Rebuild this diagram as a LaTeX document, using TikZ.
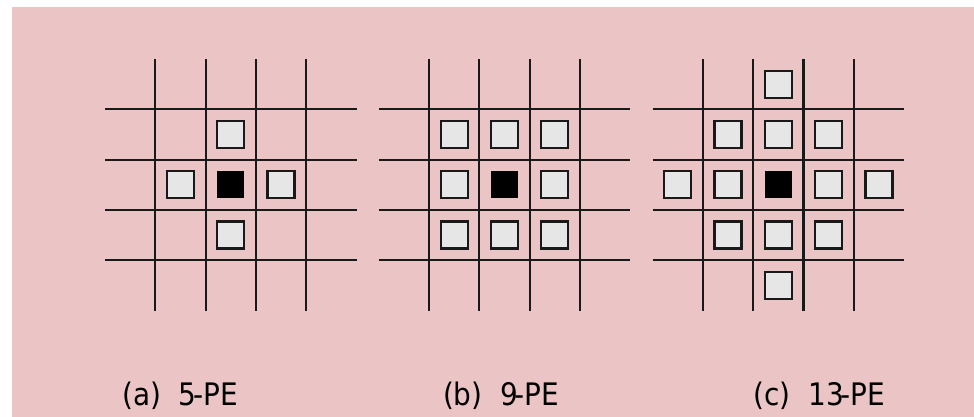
\documentclass[tikz,border=0pt]{standalone}
\usepackage{fontspec}
\setmainfont{DejaVu Sans Condensed}
\definecolor{bgpink}{RGB}{235,197,197}
\definecolor{pegray}{RGB}{230,230,230}
\def\cell{50.3}
% one processing element, placed in grid steps from the centre cell
\def\pe(#1,#2){\draw[pebox] ({#1*\cell-13.5},{#2*\cell-13.5}) rectangle ++(27,27);}
% the 4x4 lines round the centre cell
\def\pegrid{%
	\foreach \k in {-1.5,-0.5,0.5,1.5} {
		\draw[gridline] ({\k*\cell},{-2.5*\cell}) -- ({\k*\cell},{2.5*\cell});
		\draw[gridline] ({-2.5*\cell},{\k*\cell}) -- ({2.5*\cell},{\k*\cell});
	}
	\fill[black] (-13.5,-13.5) rectangle (13.5,13.5);
}

\begin{document}
\begin{tikzpicture}[x=1pt, y=-1pt,
		gridline/.style={line width=2.2pt, color=black!90},
		pebox/.style={line width=2.2pt, draw=black!90, fill=pegray},
		caption/.style={anchor=base west, inner sep=0pt, font=\fontsize{31}{37}\selectfont}]
			%%%%% START %%%%%
			
			\useasboundingbox (0, 0) rectangle (974, 417);
			\fill[bgpink] (12, 7) rectangle (974, 417);
			
			% (a) 5 elements
			\begin{scope}[shift={(230.75, 184.75)}]
				\pegrid
				\pe(0,-1) \pe(-1,0) \pe(1,0) \pe(0,1)
			\end{scope}
			
			% (b) 9 elements
			\begin{scope}[shift={(504.5, 184.75)}]
				\pegrid
				\foreach \i in {-1,0,1} {
					\pe(\i,-1) \pe(\i,1)
				}
				\pe(-1,0) \pe(1,0)
			\end{scope}
			
			% (c) 13 elements
			\begin{scope}[shift={(778.3, 184.75)}]
				\pegrid
				\foreach \i in {-1,0,1} {
					\pe(\i,-1) \pe(\i,1)
				}
				\pe(-2,0) \pe(-1,0) \pe(1,0) \pe(2,0)
				\pe(0,-2) \pe(0,2)
			\end{scope}
			
			\node[caption] (capa) at (122.2, 405) {(a)\ \ 5\kern-0.1em-PE};
			\node[caption] (capb) at (442.8, 405) {(b)\ \ 9\kern-0.1em-PE};
			\node[caption] (capc) at (753.5, 405) {(c)\ \ 13\kern-0.1em-PE};
			
			%%%%% END %%%%%
\end{tikzpicture}
\end{document}
